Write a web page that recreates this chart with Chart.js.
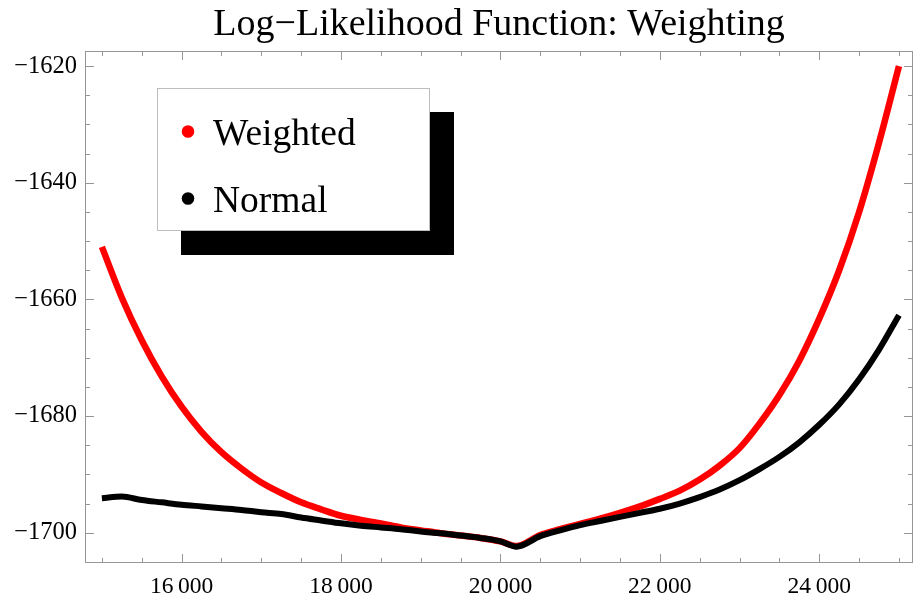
<!DOCTYPE html>
<html>
<head>
<meta charset="utf-8">
<script src="https://cdn.jsdelivr.net/npm/chart.js@4.4.1/dist/chart.umd.min.js"></script>
<style>
  html, body { margin: 0; padding: 0; background: #ffffff; }
  #wrap { width: 915px; height: 602px; }
</style>
</head>
<body>
<div id="wrap"><canvas id="c" width="915" height="602"></canvas></div>
<script>
const chartTitle = "Log\u2212Likelihood Function: Weighting";
const seriesNames = ["Weighted", "Normal"];
const seriesColors = ["#ff0000", "#000000"];

const xValues = [15000,15250,15500,15750,16000,16250,16500,16750,17000,17250,
  17500,17750,18000,18250,18500,18750,19000,19250,19500,19750,
  20000,20200,20500,20750,21000,21250,21500,21750,22000,22250,
  22500,22750,23000,23250,23500,23750,24000,24250,24500,24750,25000];

const weightedValues = [-1651.0,-1659.7,-1667.0,-1673.2,-1678.4,-1682.7,-1686.2,-1689.0,-1691.4,-1693.2,
  -1694.8,-1696.0,-1697.1,-1697.8,-1698.4,-1699.1,-1699.6,-1700.1,-1700.5,-1700.9,
  -1701.5,-1702.3,-1700.4,-1699.4,-1698.5,-1697.6,-1696.6,-1695.5,-1694.2,-1692.8,
  -1690.9,-1688.5,-1685.5,-1681.3,-1676.4,-1670.5,-1663.3,-1655.0,-1645.0,-1633.1,-1620.0];

const normalValues = [-1694.1,-1693.8,-1694.4,-1694.8,-1695.2,-1695.5,-1695.8,-1696.1,-1696.5,-1696.8,
  -1697.4,-1697.9,-1698.4,-1698.8,-1699.1,-1699.4,-1699.8,-1700.1,-1700.5,-1700.9,
  -1701.5,-1702.4,-1700.6,-1699.6,-1698.7,-1698.0,-1697.3,-1696.6,-1695.9,-1695.0,
  -1693.9,-1692.6,-1691.0,-1689.1,-1687.0,-1684.5,-1681.5,-1678.0,-1673.7,-1668.6,-1662.7];

const xTickValues = [15000,15500,16000,16500,17000,17500,18000,18500,19000,19500,20000,
  20500,21000,21500,22000,22500,23000,23500,24000,24500,25000];
const xMajorTicks = [16000,18000,20000,22000,24000];
const xTickLabels = ["16\u2009000","18\u2009000","20\u2009000","22\u2009000","24\u2009000"];

const yTickValues = [-1700,-1695,-1690,-1685,-1680,-1675,-1670,-1665,-1660,-1655,
  -1650,-1645,-1640,-1635,-1630,-1625,-1620];
const yMajorTicks = [-1700,-1680,-1660,-1640,-1620];
const yTickLabels = ["\u22121700","\u22121680","\u22121660","\u22121640","\u22121620"];

const SERIF = "'Liberation Serif', 'Times New Roman', serif";
const FRAME = "#969696";

function toPoints(xs, ys) { return xs.map((x, i) => ({ x: x, y: ys[i] })); }

const framePlugin = {
  id: 'mmaFrame',
  beforeDatasetsDraw(chart) {
    const ctx = chart.ctx, a = chart.chartArea;
    const xs = chart.scales.x, ys = chart.scales.y;
    ctx.save();
    ctx.strokeStyle = FRAME;
    ctx.lineWidth = 1;
    ctx.beginPath();
    xTickValues.forEach(v => {
      const px = Math.round(xs.getPixelForValue(v)) + 0.5;
      const len = xMajorTicks.includes(v) ? 9 : 5;
      ctx.moveTo(px, a.bottom); ctx.lineTo(px, a.bottom - len);
      ctx.moveTo(px, a.top); ctx.lineTo(px, a.top + len);
    });
    yTickValues.forEach(v => {
      const py = Math.round(ys.getPixelForValue(v)) + 0.5;
      const len = yMajorTicks.includes(v) ? 9 : 5;
      ctx.moveTo(a.left, py); ctx.lineTo(a.left + len, py);
      ctx.moveTo(a.right, py); ctx.lineTo(a.right - len, py);
    });
    ctx.stroke();
    ctx.strokeRect(Math.round(a.left) + 0.5, Math.round(a.top) + 0.5,
      Math.round(a.right - a.left) - 1, Math.round(a.bottom - a.top) - 1);
    ctx.restore();
  }
};

const legendPlugin = {
  id: 'mmaLegend',
  afterDraw(chart) {
    const ctx = chart.ctx, a = chart.chartArea;
    const bx = a.left + 72, by = a.top + 37, bw = 273, bh = 143, sh = 24;
    ctx.save();
    ctx.fillStyle = "#000";
    ctx.fillRect(bx + sh, by + sh, bw, bh);
    ctx.fillStyle = "#fff";
    ctx.fillRect(bx, by, bw, bh);
    ctx.strokeStyle = "#bdbdbd";
    ctx.lineWidth = 1;
    ctx.strokeRect(bx + 0.5, by + 0.5, bw - 1, bh - 1);
    ctx.font = "37.5px " + SERIF;
    ctx.textBaseline = "alphabetic";
    ctx.textAlign = "left";
    chart.data.datasets.forEach((ds, i) => {
      const cy = by + 43.5 + i * 67;
      ctx.fillStyle = ds.borderColor;
      ctx.beginPath();
      ctx.arc(bx + 31, cy, 6.3, 0, Math.PI * 2);
      ctx.fill();
      ctx.fillStyle = "#000";
      ctx.fillText(ds.label, bx + 56, cy + 13.5);
    });
    ctx.restore();
  }
};

new Chart(document.getElementById('c'), {
  type: 'line',
  data: {
    datasets: [
      { label: seriesNames[0], data: toPoints(xValues, weightedValues), borderColor: seriesColors[0],
        backgroundColor: seriesColors[0], borderWidth: 6.5, pointRadius: 0, cubicInterpolationMode: 'monotone',
        borderCapStyle: 'butt', borderJoinStyle: 'round', fill: false, order: 2 },
      { label: seriesNames[1], data: toPoints(xValues, normalValues), borderColor: seriesColors[1],
        backgroundColor: seriesColors[1], borderWidth: 6, pointRadius: 0, cubicInterpolationMode: 'monotone',
        borderCapStyle: 'butt', borderJoinStyle: 'round', fill: false, order: 1 }
    ]
  },
  options: {
    responsive: false,
    animation: false,
    devicePixelRatio: 1,
    layout: { padding: { left: 0, right: 2, top: 0, bottom: 0 } },
    plugins: {
      legend: { display: false },
      tooltip: { enabled: false },
      title: {
        display: true, text: chartTitle, fullSize: false, color: '#000',
        font: { family: SERIF, size: 38, weight: 'normal', lineHeight: 1 },
        padding: { top: 6, bottom: 7 }
      }
    },
    scales: {
      x: {
        type: 'linear', min: 14788, max: 25176,
        grid: { display: false, drawTicks: false },
        border: { display: false },
        afterBuildTicks(scale) { scale.ticks = xTickValues.map(v => ({ value: v })); },
        afterFit(scale) { scale.height = 39; },
        ticks: {
          autoSkip: false, maxRotation: 0, color: '#000', padding: 10,
          font: { family: SERIF, size: 23.5 },
          callback(v) { const k = xMajorTicks.indexOf(v); return k >= 0 ? xTickLabels[k] : ''; }
        }
      },
      y: {
        type: 'linear', min: -1705.2, max: -1617.4,
        grid: { display: false, drawTicks: false },
        border: { display: false },
        afterBuildTicks(scale) { scale.ticks = yTickValues.map(v => ({ value: v })); },
        afterFit(scale) { scale.width = 85; },
        ticks: {
          autoSkip: false, color: '#000', padding: 8,
          font: { family: SERIF, size: 24.5 },
          callback(v) { const k = yMajorTicks.indexOf(v); return k >= 0 ? yTickLabels[k] : ''; }
        }
      }
    }
  },
  plugins: [framePlugin, legendPlugin]
});
</script>
</body>
</html>
